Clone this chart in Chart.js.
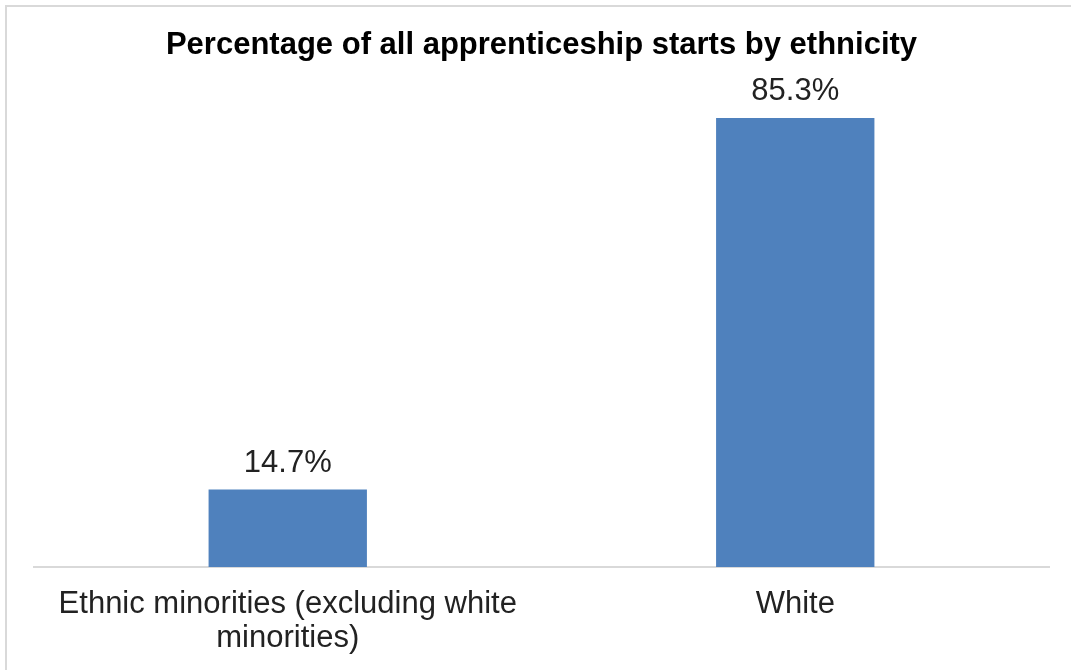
<!DOCTYPE html>
<html>
<head>
<meta charset="utf-8">
<script src="https://cdn.jsdelivr.net/npm/chart.js@4"></script>
<style>
  html, body { margin: 0; padding: 0; background: #fff; }
  #wrap { width: 1071px; height: 670px; }
</style>
</head>
<body>
<div id="wrap"><canvas id="myChart" width="1071" height="670"></canvas></div>
<script>
// data
const categories = [
  ['Ethnic minorities (excluding white', 'minorities)'],
  'White'
];
const shares = [14.7, 85.3];
const chartTitle = 'Percentage of all apprenticeship starts by ethnicity';

const FONT = "'Liberation Sans', Arial, sans-serif";

// white background + light frame around the chart
const framePlugin = {
  id: 'frame',
  beforeDraw(chart) {
    const { ctx, width, height } = chart;
    ctx.save();
    ctx.fillStyle = '#ffffff';
    ctx.fillRect(0, 0, width, height);
    ctx.strokeStyle = '#d9d9d9';
    ctx.lineWidth = 2;
    ctx.strokeRect(6, 6, width + 20, height + 20);
    ctx.restore();
  }
};

// value labels above bars
const valueLabels = {
  id: 'valueLabels',
  afterDatasetsDraw(chart) {
    const { ctx } = chart;
    const meta = chart.getDatasetMeta(0);
    ctx.save();
    ctx.fillStyle = '#222222';
    ctx.font = '31px ' + FONT;
    ctx.textAlign = 'center';
    ctx.textBaseline = 'alphabetic';
    meta.data.forEach((bar, i) => {
      ctx.fillText(shares[i].toFixed(1) + '%', bar.x, bar.y - 18);
    });
    ctx.restore();
  }
};

new Chart(document.getElementById('myChart').getContext('2d'), {
  type: 'bar',
  data: {
    labels: categories,
    datasets: [{
      data: shares,
      backgroundColor: '#4f81bd',
      borderWidth: 0,
      categoryPercentage: 1,
      barPercentage: 0.312
    }]
  },
  options: {
    responsive: false,
    animation: false,
    layout: { padding: { left: 34, right: 22, top: 6, bottom: 0 } },
    plugins: {
      legend: { display: false },
      tooltip: { enabled: false },
      title: {
        display: true,
        text: chartTitle,
        color: '#000000',
        font: { family: FONT, size: 31, weight: 'bold', lineHeight: 1.2 },
        padding: { top: 21, bottom: 29 }
      }
    },
    scales: {
      x: {
        grid: { display: false },
        border: { display: true, color: '#d9d9d9', width: 2 },
        ticks: {
          color: '#222222',
          padding: 12,
          font: { family: FONT, size: 31, lineHeight: 1.1 },
          maxRotation: 0,
          autoSkip: false
        },
        afterFit(scale) {
          // keep the baseline where the reference has it
          scale.height = 103;
        }
      },
      y: {
        display: false,
        min: 0,
        max: 90
      }
    }
  },
  plugins: [framePlugin, valueLabels]
});
</script>
</body>
</html>
